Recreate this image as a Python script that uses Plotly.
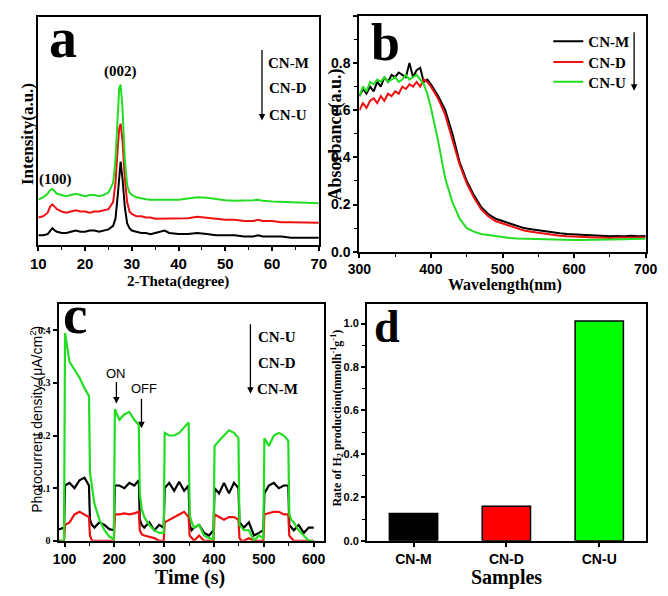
import plotly.graph_objects as go

W, H = 668, 596
# the page body has an 8px default margin: positions below are given in
# reference-picture pixels and converted to figure paper coordinates here
OFF = 8


def px(x):
    return (x - OFF) / W


def py(y):
    return 1 - (y - OFF) / H


SERIF = "Liberation Serif"
SANS = "Liberation Sans"
BLACK = "#000000"
RED = "#ee1111"
GREEN = "#22dd22"

# ---------------- Panel a : XRD ----------------
xrd_theta = [10, 11, 12, 12.5, 13, 13.5, 14, 15, 16, 17, 18, 19, 20, 21, 22, 23, 24, 25, 26, 26.5,
             27, 27.3, 27.6, 28, 28.5, 29, 29.5, 30, 31, 32, 33, 34, 35, 36, 37, 38, 40, 42, 44, 46,
             48, 50, 52, 54, 56, 57, 58, 60, 62, 64, 66, 68, 70]
xrd_cn_m = [0.08, 0.08, 0.085, 0.10, 0.11, 0.10, 0.095, 0.09, 0.09, 0.095, 0.10, 0.095, 0.095, 0.10, 0.10,
            0.095, 0.10, 0.105, 0.12, 0.15, 0.25, 0.34, 0.39, 0.32, 0.20, 0.13, 0.11, 0.10, 0.095, 0.09,
            0.09, 0.085, 0.09, 0.095, 0.10, 0.09, 0.085, 0.085, 0.09, 0.085, 0.08, 0.08, 0.08, 0.075,
            0.075, 0.08, 0.075, 0.075, 0.075, 0.07, 0.07, 0.07, 0.07]
xrd_cn_d = [0.155, 0.16, 0.175, 0.20, 0.21, 0.20, 0.19, 0.18, 0.175, 0.18, 0.185, 0.18, 0.18, 0.175, 0.18,
            0.18, 0.185, 0.19, 0.22, 0.30, 0.45, 0.53, 0.55, 0.48, 0.32, 0.22, 0.18, 0.17, 0.16, 0.16,
            0.155, 0.155, 0.15, 0.15, 0.15, 0.15, 0.15, 0.152, 0.158, 0.155, 0.15, 0.145, 0.145, 0.14,
            0.14, 0.145, 0.14, 0.14, 0.135, 0.135, 0.135, 0.133, 0.133]
xrd_cn_u = [0.23, 0.24, 0.255, 0.27, 0.275, 0.265, 0.255, 0.25, 0.245, 0.25, 0.255, 0.25, 0.245, 0.25, 0.25,
            0.245, 0.25, 0.26, 0.30, 0.40, 0.60, 0.70, 0.715, 0.62, 0.40, 0.29, 0.26, 0.25, 0.24, 0.235,
            0.232, 0.23, 0.23, 0.23, 0.23, 0.23, 0.23, 0.235, 0.24, 0.238, 0.232, 0.228, 0.225, 0.225,
            0.228, 0.23, 0.225, 0.222, 0.22, 0.218, 0.218, 0.216, 0.215]

# ---------------- Panel b : UV-vis ----------------
uv_wavelength = [300, 305, 310, 315, 320, 325, 330, 335, 340, 345, 350, 355, 360, 365, 370, 375, 380, 385,
                 390, 395, 400, 410, 420, 430, 440, 450, 460, 470, 480, 490, 500, 510, 520, 530, 540,
                 550, 560, 570, 580, 590, 600, 610, 620, 630, 640, 650, 660, 670, 680, 690, 700]
uv_cn_m = [0.66, 0.69, 0.67, 0.70, 0.68, 0.72, 0.70, 0.74, 0.72, 0.75, 0.74, 0.76, 0.75, 0.74, 0.80, 0.74,
           0.77, 0.78, 0.72, 0.73, 0.71, 0.66, 0.60, 0.50, 0.38, 0.30, 0.24, 0.19, 0.16, 0.14, 0.13, 0.12,
           0.11, 0.10, 0.095, 0.09, 0.085, 0.08, 0.078, 0.075, 0.073, 0.07, 0.068, 0.067, 0.066, 0.065,
           0.066, 0.065, 0.068, 0.065, 0.066]
uv_cn_d = [0.60, 0.63, 0.61, 0.64, 0.65, 0.63, 0.66, 0.64, 0.67, 0.66, 0.68, 0.67, 0.70, 0.69, 0.71, 0.70,
           0.72, 0.70, 0.73, 0.72, 0.70, 0.65, 0.58, 0.48, 0.37, 0.29, 0.23, 0.18, 0.15, 0.13, 0.12, 0.11,
           0.10, 0.09, 0.085, 0.08, 0.075, 0.07, 0.068, 0.065, 0.063, 0.062, 0.06, 0.06, 0.06, 0.058,
           0.06, 0.06, 0.058, 0.06, 0.06]
uv_cn_u = [0.66, 0.70, 0.68, 0.72, 0.71, 0.73, 0.72, 0.74, 0.72, 0.73, 0.74, 0.72, 0.73, 0.75, 0.73, 0.74,
           0.75, 0.73, 0.71, 0.67, 0.61, 0.47, 0.31, 0.21, 0.14, 0.10, 0.085, 0.075, 0.07, 0.065, 0.06,
           0.058, 0.056, 0.055, 0.053, 0.052, 0.051, 0.05, 0.05, 0.05, 0.05, 0.05, 0.05, 0.05, 0.051,
           0.052, 0.052, 0.053, 0.054, 0.055, 0.055]

# ---------------- Panel c : photocurrent ----------------
pc_time = [80, 90, 99,
           101, 110, 120, 130, 140, 149, 151, 155, 160, 170, 180, 190, 199,
           201, 210, 220, 230, 240, 249, 251, 255, 260, 270, 280, 290, 299,
           301, 310, 320, 330, 340, 349, 351, 355, 360, 370, 380, 390, 399,
           401, 410, 420, 430, 440, 449, 451, 455, 460, 470, 480, 490, 499,
           501, 510, 520, 530, 540, 549, 551, 555, 560, 570, 580, 590, 600]
pc_cn_u = [0, 0, 0,
           0.395, 0.34, 0.325, 0.31, 0.29, 0.275, 0.13, 0.10, 0.07, 0.04, 0.02, 0.008, 0.003,
           0.25, 0.23, 0.24, 0.245, 0.23, 0.22, 0.09, 0.06, 0.045, 0.03, 0.02, 0.015, 0.015,
           0.205, 0.20, 0.20, 0.205, 0.215, 0.225, 0.05, 0.035, 0.025, 0.03, 0.01, 0.005, 0.003,
           0.18, 0.19, 0.20, 0.21, 0.205, 0.195, 0.03, 0.025, 0.02, 0.02, 0.0, 0.01, 0.005,
           0.195, 0.18, 0.20, 0.205, 0.20, 0.19, 0.05, 0.04, 0.035, 0.02, 0.01, 0.0, 0.0]
pc_cn_d = [0.005, 0.0, 0.0,
           0.03, 0.035, 0.05, 0.055, 0.05, 0.045, 0.01, 0.0, 0.0, 0.0, 0.0, 0.0, 0.0,
           0.05, 0.05, 0.052, 0.05, 0.052, 0.055, 0.02, 0.012, 0.01, 0.008, 0.005, 0.0, 0.0,
           0.035, 0.04, 0.045, 0.05, 0.055, 0.045, 0.01, 0.005, 0.0, 0.01, 0.0, 0.0, 0.0,
           0.05, 0.045, 0.04, 0.045, 0.045, 0.04, 0.005, 0.0, 0.0, 0.005, 0.0, 0.0, 0.0,
           0.05, 0.052, 0.055, 0.055, 0.05, 0.05, 0.01, 0.005, 0.0, 0.0, 0.0, 0.0, 0.0]
pc_cn_m = [0.022, 0.022, 0.025,
           0.105, 0.11, 0.10, 0.115, 0.12, 0.105, 0.04, 0.03, 0.025, 0.035, 0.03, 0.022, 0.02,
           0.105, 0.105, 0.10, 0.11, 0.105, 0.115, 0.04, 0.03, 0.025, 0.035, 0.02, 0.03, 0.025,
           0.10, 0.11, 0.095, 0.112, 0.095, 0.105, 0.03, 0.02, 0.025, 0.03, 0.015, 0.01, 0.02,
           0.10, 0.09, 0.11, 0.09, 0.11, 0.10, 0.035, 0.03, 0.025, 0.035, 0.01, 0.015, 0.02,
           0.09, 0.105, 0.11, 0.10, 0.105, 0.105, 0.03, 0.025, 0.02, 0.03, 0.015, 0.025, 0.025]

# ---------------- Panel d : H2 evolution ----------------
samples = ["CN-M", "CN-D", "CN-U"]
h2_rate = [0.126, 0.159, 1.012]
bar_colors = ["#000000", "#ff0000", "#00ff00"]

fig = go.Figure()

# panel a
for name, vals, col in [("CN-M", xrd_cn_m, BLACK), ("CN-D", xrd_cn_d, RED), ("CN-U", xrd_cn_u, GREEN)]:
    fig.add_trace(go.Scatter(x=xrd_theta, y=vals, mode="lines", name=name, showlegend=False,
                             line=dict(color=col, width=2), xaxis="x", yaxis="y"))
# panel b (each entry gets its own legend box so it can be placed exactly)
for name, vals, col, leg in [("CN-M", uv_cn_m, BLACK, "legend"), ("CN-D", uv_cn_d, RED, "legend2"),
                             ("CN-U", uv_cn_u, GREEN, "legend3")]:
    fig.add_trace(go.Scatter(x=uv_wavelength, y=vals, mode="lines", name=name, showlegend=True, legend=leg,
                             line=dict(color=col, width=2), xaxis="x2", yaxis="y2"))
# panel c
for name, vals, col in [("CN-M", pc_cn_m, BLACK), ("CN-D", pc_cn_d, RED), ("CN-U", pc_cn_u, GREEN)]:
    fig.add_trace(go.Scatter(x=pc_time, y=vals, mode="lines", name=name, showlegend=False,
                             line=dict(color=col, width=2.2), xaxis="x3", yaxis="y3"))
# panel d
fig.add_trace(go.Bar(x=samples, y=h2_rate, marker=dict(color=bar_colors, line=dict(color="black", width=1.5)),
                     width=0.52, showlegend=False, xaxis="x4", yaxis="y4"))


def axis_style(**kw):
    base = dict(showline=True, linewidth=2, linecolor="black", mirror=True, showgrid=False,
                zeroline=False, ticks="outside", ticklen=5, tickwidth=1.5, tickcolor="black")
    base.update(kw)
    return base


def leg(y):
    return dict(x=px(556), y=py(y), xanchor="left", yanchor="middle", bgcolor="rgba(0,0,0,0)",
                borderwidth=0, font=dict(family=SERIF, size=15, weight="bold", color="black"),
                itemwidth=30)


fig.update_layout(
    width=W, height=H, margin=dict(l=0, r=0, t=0, b=0),
    paper_bgcolor="white", plot_bgcolor="white",
    xaxis=axis_style(domain=[px(27), px(318)], anchor="y", range=[10, 70], dtick=10, ticklen=4,
                     tickfont=dict(family=SANS, size=15, weight="bold", color="black"),
                     minor=dict(dtick=5, ticks="outside", ticklen=3, tickwidth=1, tickcolor="black")),
    yaxis=axis_style(domain=[py(248), py(17)], anchor="x", range=[0.04, 1.0], ticks="",
                     showticklabels=False),
    xaxis2=axis_style(domain=[px(360), px(657)], anchor="y2", range=[300, 700], dtick=100, ticklen=4,
                      tickfont=dict(family=SANS, size=14, weight="bold", color="black"),
                      minor=dict(dtick=50, ticks="outside", ticklen=3, tickwidth=1, tickcolor="black")),
    yaxis2=axis_style(domain=[py(255), py(16)], anchor="x2", range=[0, 1.0], dtick=0.2, tickformat=".1f",
                      ticklen=4, tickfont=dict(family=SANS, size=14, weight="bold", color="black"),
                      minor=dict(dtick=0.1, ticks="outside", ticklen=3, tickwidth=1, tickcolor="black")),
    xaxis3=axis_style(domain=[px(48), px(323)], anchor="y3", range=[88, 620], dtick=100, ticklen=4,
                      tickfont=dict(family=SANS, size=14, weight="bold", color="black"),
                      minor=dict(dtick=50, ticks="outside", ticklen=3, tickwidth=1, tickcolor="black")),
    yaxis3=axis_style(domain=[py(548), py(308)], anchor="x3", range=[0, 0.45], dtick=0.1, ticklen=4,
                      tickfont=dict(family=SERIF, size=10, weight="bold", color="black")),
    xaxis4=axis_style(domain=[px(368), px(657)], anchor="y4", range=[-0.5, 2.5], ticklen=4,
                      tickfont=dict(family=SANS, size=14, weight="bold", color="black")),
    yaxis4=axis_style(domain=[py(548), py(308)], anchor="x4", range=[0, 1.09], dtick=0.2, tickformat=".1f",
                      ticklen=4, tickfont=dict(family=SANS, size=11, weight="bold", color="black"),
                      minor=dict(dtick=0.1, ticks="outside", ticklen=3, tickwidth=1, tickcolor="black")),
    legend=leg(42), legend2=leg(63), legend3=leg(83),
    bargap=0.48,
)

ann = []


def text(x, y, s, family=SERIF, size=15, bold=True, angle=0, color="black"):
    ann.append(dict(x=px(x), y=py(y), xref="paper", yref="paper", text=("<b>%s</b>" % s) if bold else s,
                    showarrow=False, xanchor="center", yanchor="middle", textangle=angle,
                    font=dict(family=family, size=size, color=color)))


def arrow(x, y_tail, y_tip):
    ann.append(dict(x=px(x), y=py(y_tip), xref="paper", yref="paper", ax=0, ay=-(y_tip - y_tail),
                    text="", showarrow=True, arrowhead=2, arrowsize=1, arrowwidth=1.3, arrowcolor="black"))


# panel letters
text(53, 38, "a", size=56)
text(387, 43, "b", size=52)
text(65, 319, "c", size=55)
text(389, 331, "d", size=46)

# panel a texts
text(112, 72, "(002)", size=15)
text(45, 182, "(100)", size=15)
text(286, 64, "CN-M", size=15)
text(286, 89, "CN-D", size=15)
text(286, 116, "CN-U", size=15)
arrow(259, 50, 122)
text(172, 285, "2-Theta(degree)", size=15)
text(16, 136, "Intensity(a.u.)", size=17, angle=-90)

# panel b texts
arrow(645, 32, 92)
text(511, 289, "Wavelength(nm)", size=16)
text(335, 136, "Absorbance(a.u.)", size=18, angle=-90)

# panel c texts
text(275, 341, "CN-U", size=15)
text(275, 368, "CN-D", size=15)
text(275, 394, "CN-M", size=15)
arrow(247, 328, 399)
text(108, 378, "ON", family=SANS, size=13, bold=False)
arrow(108, 386, 409)
text(137, 394, "OFF", family=SANS, size=13, bold=False)
arrow(134, 403, 434)
text(184, 585, "Time (s)", size=20)
text(25, 425, "Photocurrent density (μA/cm<sup>2</sup>)", family=SANS, size=14, bold=False, angle=-90)

# panel d texts
text(513, 585, "Samples", size=20)
text(337, 424, "Rate of H<sub>2</sub> production(mmolh<sup>-1</sup>g<sup>-1</sup>)", size=12, angle=-90)

fig.update_layout(annotations=ann)

fig.write_html("out.html")
